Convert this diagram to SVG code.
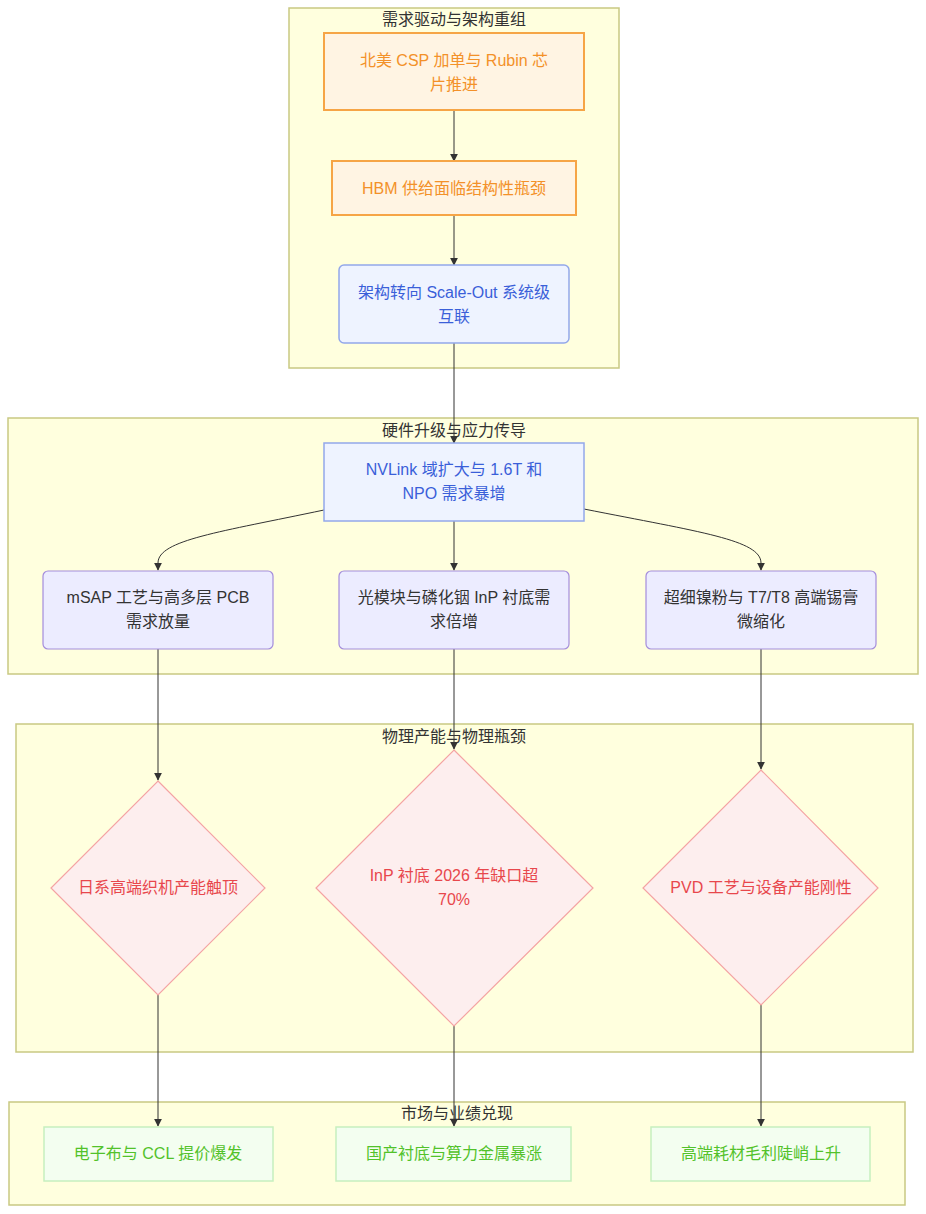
<svg xmlns="http://www.w3.org/2000/svg" width="926" height="1214" viewBox="0 0 926 1214">
<defs>
<style>
text{font-family:"Liberation Sans","Noto Sans CJK SC",sans-serif;font-size:16px;text-anchor:middle;dominant-baseline:central}
.cl{fill:#ffffde;stroke:#c9c983;stroke-width:1.5}
.ct{fill:#333}
.or{fill:#fff4e3;stroke:#f6a546;stroke-width:2}
.ort{fill:#f39129}
.bl{fill:#eef3ff;stroke:#93a8ea;stroke-width:1.5}
.blt{fill:#3a5fd9}
.pu{fill:#ececff;stroke:#a48ddc;stroke-width:1.2}
.put{fill:#333}
.di{fill:#fdeeee;stroke:#f4a3a3;stroke-width:1.2}
.dit{fill:#e8474c}
.gr{fill:#f3fef0;stroke:#c6efbf;stroke-width:1.5}
.grt{fill:#52c22a}
.e{fill:none;stroke:#333;stroke-width:1;marker-end:url(#arr)}
</style>
<marker id="arr" viewBox="0 0 10 10" refX="9" refY="5" markerWidth="8" markerHeight="8" markerUnits="userSpaceOnUse" orient="auto">
<path d="M0,0 L10,5 L0,10 z" fill="#333"/>
</marker>
</defs>
<g id="clusters">
<g id="c1"><rect class="cl" x="289" y="8" width="330" height="360"/><text class="ct" x="454" y="19">需求驱动与架构重组</text></g>
<g id="c2"><rect class="cl" x="8" y="418" width="910" height="256"/><text class="ct" x="454" y="430">硬件升级与应力传导</text></g>
<g id="c3"><rect class="cl" x="16" y="724" width="897" height="328"/><text class="ct" x="454" y="736">物理产能与物理瓶颈</text></g>
<g id="c4"><rect class="cl" x="9" y="1102" width="896" height="103"/><text class="ct" x="457" y="1113">市场与业绩兑现</text></g>
</g>
<g id="edges">
<path class="e" d="M454,110 L454,161"/>
<path class="e" d="M454,215 L454,265"/>
<path class="e" d="M454,343 L454,443"/>
<path class="e" d="M324,510 C220,532 158,540 158,563 L158,570"/>
<path class="e" d="M454,521 L454,570"/>
<path class="e" d="M584,509 C700,532 761,540 761,563 L761,570"/>
<path class="e" d="M158,649 L158,780"/>
<path class="e" d="M454,649 L454,749"/>
<path class="e" d="M761,649 L761,769"/>
<path class="e" d="M158,995 L158,1126"/>
<path class="e" d="M454,1026 L454,1126"/>
<path class="e" d="M761,1005 L761,1126"/>
</g>
<g id="nA"><rect class="or" x="324" y="33" width="260" height="77"/><text class="ort" x="454" y="60">北美 CSP 加单与 Rubin 芯</text><text class="ort" x="454" y="84">片推进</text></g>
<g id="nB"><rect class="or" x="332" y="161" width="244" height="54"/><text class="ort" x="454" y="188">HBM 供给面临结构性瓶颈</text></g>
<g id="nC"><rect class="bl" x="339" y="265" width="230" height="78" rx="5"/><text class="blt" x="454" y="292">架构转向 Scale-Out 系统级</text><text class="blt" x="454" y="316">互联</text></g>
<g id="nD"><rect class="bl" x="324" y="443" width="260" height="78"/><text class="blt" x="454" y="469">NVLink 域扩大与 1.6T 和</text><text class="blt" x="454" y="493">NPO 需求暴增</text></g>
<g id="nE"><rect class="pu" x="43" y="571" width="230" height="78" rx="5"/><text class="put" x="158" y="597">mSAP 工艺与高多层 PCB</text><text class="put" x="158" y="621">需求放量</text></g>
<g id="nF"><rect class="pu" x="339" y="571" width="230" height="78" rx="5"/><text class="put" x="454" y="597">光模块与磷化铟 InP 衬底需</text><text class="put" x="454" y="621">求倍增</text></g>
<g id="nG"><rect class="pu" x="646" y="571" width="230" height="78" rx="5"/><text class="put" x="761" y="597">超细镍粉与 T7/T8 高端锡膏</text><text class="put" x="761" y="621">微缩化</text></g>
<g id="nH"><polygon class="di" points="158,781 265,888 158,995 51,888"/><text class="dit" x="158" y="887">日系高端织机产能触顶</text></g>
<g id="nI"><polygon class="di" points="454,750 593,888 454,1026 316,888"/><text class="dit" x="454" y="875">InP 衬底 2026 年缺口超</text><text class="dit" x="454" y="899">70%</text></g>
<g id="nJ"><polygon class="di" points="761,770 878,888 761,1005 643,888"/><text class="dit" x="761" y="887">PVD 工艺与设备产能刚性</text></g>
<g id="nK"><rect class="gr" x="44" y="1127" width="229" height="54"/><text class="grt" x="158" y="1153">电子布与 CCL 提价爆发</text></g>
<g id="nL"><rect class="gr" x="336" y="1127" width="235" height="54"/><text class="grt" x="454" y="1153">国产衬底与算力金属暴涨</text></g>
<g id="nM"><rect class="gr" x="651" y="1127" width="219" height="54"/><text class="grt" x="761" y="1153">高端耗材毛利陡峭上升</text></g>
</svg>
